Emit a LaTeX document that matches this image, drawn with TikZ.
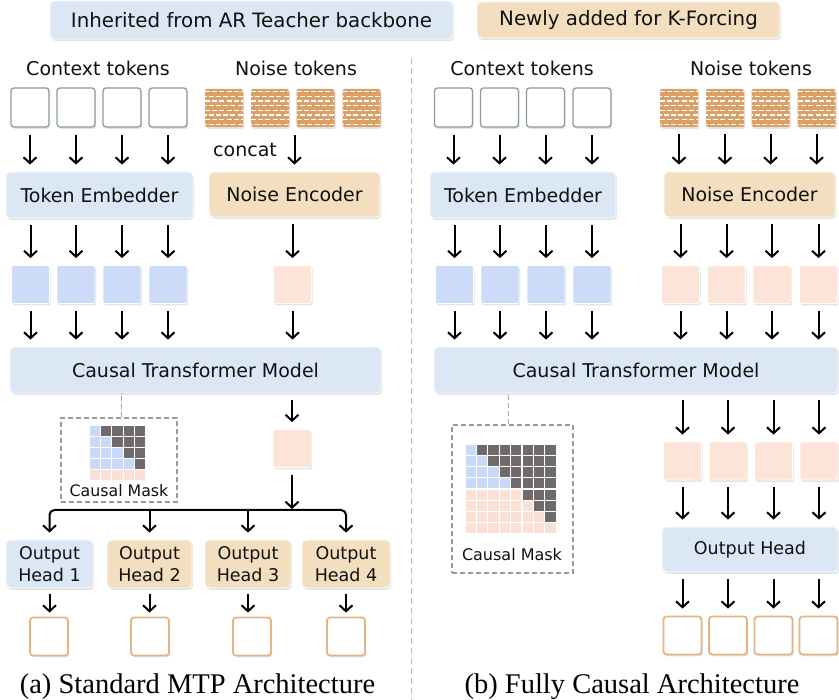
\documentclass[tikz,border=0pt]{standalone}
\usepackage{fontspec}
\setmainfont{DejaVu Sans}
\newfontfamily\capfont{Liberation Serif}
\usetikzlibrary{arrows.meta,shadows,calc}
\definecolor{bluebox}{HTML}{DCE7F6}
\definecolor{orbox}{HTML}{F3DFC0}
\definecolor{blueemb}{HTML}{CCDBF8}
\definecolor{pinkemb}{HTML}{FCE4D8}
\definecolor{noiseor}{HTML}{D9A068}
\definecolor{tokgray}{HTML}{8E9C9C}
\definecolor{outor}{HTML}{E6B482}
\definecolor{maskdark}{HTML}{6F6B6B}
\definecolor{maskblue}{HTML}{C9D9F8}
\definecolor{maskpink}{HTML}{FBE1D5}
\definecolor{txt}{HTML}{111111}
\begin{document}
\begin{tikzpicture}[x=1pt,y=-1pt,
  shad/.style={drop shadow={shadow xshift=1.2pt,shadow yshift=-1.8pt,opacity=0.18,fill=black!60}},
  mod/.style={rounded corners=4pt, draw=white, line width=0.8pt, shad, inner sep=0pt, text=txt, font=\fontsize{19}{22}\selectfont},
  bluemod/.style={mod, fill=bluebox},
  ormod/.style={mod, fill=orbox},
  headbox/.style={mod, align=center, font=\fontsize{17.5}{22}\selectfont, minimum height=48pt},
  ctok/.style={rounded corners=3pt, draw=tokgray, line width=1.3pt, fill=white, minimum width=38pt, minimum height=39pt, inner sep=0pt, shad},
  otok/.style={rounded corners=3pt, draw=outor, line width=1.8pt, fill=white, minimum width=38pt, minimum height=38pt, inner sep=0pt, shad},
  etok/.style={rounded corners=2pt, draw=white, line width=0.8pt, fill=blueemb, minimum size=38pt, inner sep=0pt, shad},
  ptok/.style={rounded corners=2pt, draw=white, line width=0.8pt, fill=pinkemb, minimum size=38pt, inner sep=0pt, shad},
  ntok/.style={rounded corners=2pt, fill=noiseor, minimum size=38pt, inner sep=0pt, shad,
    path picture={
      \foreach \k in {0,...,7}{
        \pgfmathsetmacro\yy{2.6+\k*4.7}
        \pgfmathsetmacro\ph{mod(\k,2)*3.5}
        \draw[white, line width=1.3pt, dash pattern=on 5pt off 2.2pt, dash phase=\ph pt]
          ([yshift=-\yy pt]path picture bounding box.north west) -- ([yshift=-\yy pt]path picture bounding box.north east);
      }}},
  lbl/.style={text=txt, font=\fontsize{19}{22}\selectfont, inner sep=0pt, anchor=base},
  arr/.style={line width=2pt, -{Straight Barb[length=6pt,width=13pt]}, shorten <=7pt, shorten >=7pt},
  arrboth/.style={line width=2pt, {Straight Barb[length=6pt,width=13pt]}-{Straight Barb[length=6pt,width=13pt]}},
  maskbox/.style={draw=gray!80, line width=1.2pt, dash pattern=on 5pt off 3pt, fill=white, inner sep=0pt},
  maskline/.style={draw=gray!70, line width=1pt, dash pattern=on 5pt off 3pt},
  captxt/.style={font=\capfont\fontsize{28.5}{32}\selectfont, text=black, inner sep=0pt, anchor=base}
]
\useasboundingbox (0,0) rectangle (839,700);
\fill[white] (0,0) rectangle (839,700);

% legend
\node[bluemod, minimum width=403pt, minimum height=38pt, font=\fontsize{19.8}{22}\selectfont] (legA) at (251.5,20) {Inherited from AR Teacher backbone};
\node[ormod, minimum width=303pt, minimum height=36pt, font=\fontsize{19.8}{22}\selectfont] (legB) at (628.5,20) {Newly added for K-Forcing};

% divider
\coordinate (divT) at (411,58);
\coordinate (divB) at (411,700);
\draw[gray!55, line width=1pt, dash pattern=on 6pt off 4pt] (divT) -- (divB);

% ================= LEFT PANEL =================
\node[lbl] (ctxL) at (98,76) {Context tokens};
\node[lbl] (noiL) at (296,76) {Noise tokens};
\foreach \n/\x in {1/30,2/76,3/122,4/168}{\node[ctok] (c\n) at (\x,107.5) {};}
\foreach \n/\x in {1/224,2/270,3/315.5,4/361.5}{\node[ntok] (n\n) at (\x,108) {};}
\node[lbl, anchor=base west] (concat) at (213,157) {concat};

\node[bluemod, minimum width=187pt, minimum height=46pt] (emb) at (99.5,195) {Token Embedder};
\node[ormod, minimum width=171pt, minimum height=45pt] (ne) at (294.5,194.5) {Noise Encoder};

\foreach \n in {1,...,4}{\draw[arr] (c\n.south) -- (c\n.south |- emb.north);}
\draw[arr] (ne.north |- c1.south) -- (ne.north);

\foreach \n/\x in {1/30.5,2/76,3/122,4/168}{\node[etok] (e\n) at (\x,284.5) {};}
\node[ptok] (pk1) at (292.5,284.5) {};
\foreach \n in {1,...,4}{\draw[arr] (e\n.north |- emb.south) -- (e\n.north);}
\draw[arr] (pk1.north |- ne.south) -- (pk1.north);

\node[bluemod, minimum width=371pt, minimum height=46pt] (tr) at (195.5,370) {Causal Transformer Model};
\foreach \n in {1,...,4}{\draw[arr] (e\n.south) -- (e\n.south |- tr.north);}
\draw[arr] (pk1.south) -- (pk1.south |- tr.north);

% mask left
\node[maskbox, minimum width=116pt, minimum height=84pt] (mask1) at (119,460) {};
\draw[maskline] (mask1.north -| 121,0) -- (121,393);
\foreach \r in {0,...,4}{\foreach \c in {0,...,4}{
  \ifnum\r=4 \def\cc{maskpink}\else\ifnum\c>\r \def\cc{maskdark}\else\def\cc{maskblue}\fi\fi
  \fill[\cc] (89.6+\c*11.4, 425.6+\r*11.2) rectangle ++(10.2,10.0);
}}
\node[text=txt, font=\fontsize{15.8}{18}\selectfont, inner sep=0pt] (mlab1) at (119,491) {Causal Mask};

\node[ptok] (pk2) at (292,448.5) {};
\draw[arr] (pk2.north |- tr.south) -- (pk2.north);

% heads
\node[headbox, fill=bluebox, minimum width=87pt] (h1) at (49.5,564) {Output\\Head 1};
\node[headbox, fill=orbox, minimum width=85pt] (h2) at (149.5,564) {Output\\Head 2};
\node[headbox, fill=orbox, minimum width=86pt] (h3) at (248,564) {Output\\Head 3};
\node[headbox, fill=orbox, minimum width=88pt] (h4) at (346,564) {Output\\Head 4};

\coordinate (bus) at (pk2.south |- 0,510);
\draw[arr, shorten >=1pt] (pk2.south) -- (bus);
\draw[arrboth, rounded corners=5pt] ([yshift=7pt]h1.north) |- (bus) -| ([yshift=7pt]h4.north);
\draw[arr, shorten <=0pt] (h2.north |- bus) -- (h2.north);
\draw[arr, shorten <=0pt] (h3.north |- bus) -- (h3.north);

\foreach \n/\x in {1/49,2/150,3/252,4/346}{\node[otok] (o\n) at (\x,636.5) {};}
\foreach \n in {1,...,4}{\draw[arr, shorten <=6pt, shorten >=4pt] (h\n.south) -- (h\n.south |- o\n.north);}

\node[captxt] (capA) at (197.5,693) {(a) Standard MTP Architecture};

% ================= RIGHT PANEL =================
\node[lbl] (ctxR) at (522,76) {Context tokens};
\node[lbl] (noiR) at (751,76) {Noise tokens};
\foreach \n/\x in {1/453.5,2/499.5,3/545.5,4/592}{\node[ctok] (rc\n) at (\x,107.5) {};}
\foreach \n/\x in {1/679,2/725,3/770.5,4/816.5}{\node[ntok] (rn\n) at (\x,108) {};}

\node[bluemod, minimum width=186pt, minimum height=46pt] (remb) at (523,195) {Token Embedder};
\node[ormod, minimum width=171pt, minimum height=45pt] (rne) at (749.5,194.5) {Noise Encoder};
\foreach \n in {1,...,4}{\draw[arr] (rc\n.south) -- (rc\n.south |- remb.north);}
\foreach \n in {1,...,4}{\draw[arr] (rn\n.south) -- (rn\n.south |- rne.north);}

\foreach \n/\x in {1/454.5,2/500,3/546,4/592}{\node[etok] (re\n) at (\x,284.5) {};}
\foreach \n/\x in {1/680.5,2/726.5,3/772,4/818.5}{\node[ptok] (rp\n) at (\x,284.5) {};}
\foreach \n in {1,...,4}{\draw[arr] (re\n.north |- remb.south) -- (re\n.north);}
\foreach \n in {1,...,4}{\draw[arr] (rp\n.north |- rne.south) -- (rp\n.north);}

\node[bluemod, minimum width=404pt, minimum height=46pt] (rtr) at (636,370) {Causal Transformer Model};
\foreach \n in {1,...,4}{\draw[arr] (re\n.south) -- (re\n.south |- rtr.north);}
\foreach \n in {1,...,4}{\draw[arr] (rp\n.south) -- (rp\n.south |- rtr.north);}

% mask right
\node[maskbox, minimum width=121pt, minimum height=148pt] (mask2) at (512.5,499) {};
\draw[maskline] (mask2.north -| 508,0) -- (508,393);
\foreach \r in {0,...,7}{\foreach \c in {0,...,7}{
  \ifnum\c>\r \def\cc{maskdark}\else\ifnum\r<4 \def\cc{maskblue}\else\def\cc{maskpink}\fi\fi
  \fill[\cc] (465.6+\c*11.4, 444.6+\r*11.25) rectangle ++(10.2,10.05);
}}
\node[text=txt, font=\fontsize{16}{18}\selectfont, inner sep=0pt] (mlab2) at (512,555) {Causal Mask};

\foreach \n/\x in {1/682.5,2/728,3/773.5,4/819}{\node[ptok] (rq\n) at (\x,461) {};}
\foreach \n in {1,...,4}{\draw[arr] (rq\n.north |- rtr.south) -- (rq\n.north);}

\node[bluemod, minimum width=176pt, minimum height=45pt, font=\fontsize{17.5}{20}\selectfont] (rhead) at (750,549.5) {Output Head};
\foreach \n in {1,...,4}{\draw[arr] (rq\n.south) -- (rq\n.south |- rhead.north);}

\foreach \n/\x in {1/682.5,2/728,3/773.5,4/818.5}{\node[otok] (ro\n) at (\x,635.5) {};}
\foreach \n in {1,...,4}{\draw[arr] (ro\n.north |- rhead.south) -- (ro\n.north);}

\node[captxt] (capB) at (632,693) {(b) Fully Causal Architecture};
\end{tikzpicture}
\end{document}
